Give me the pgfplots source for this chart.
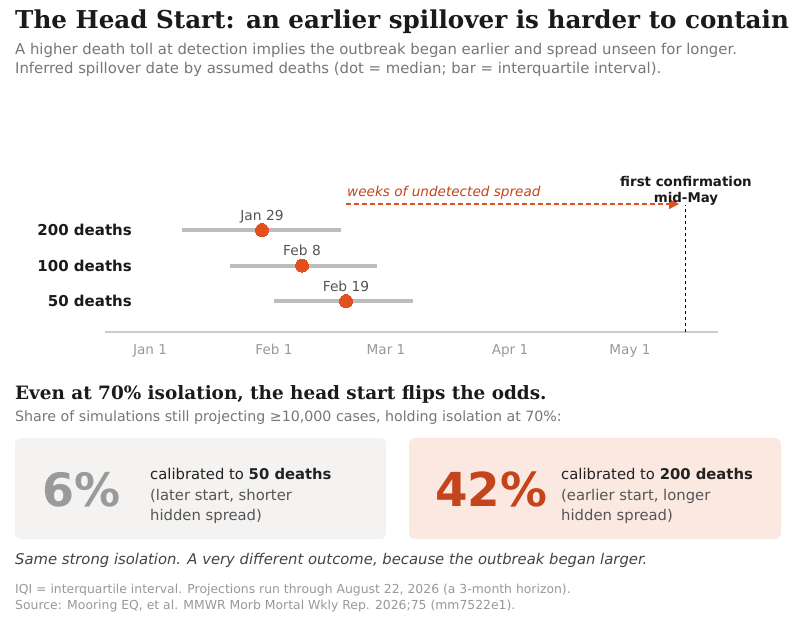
\documentclass[border=0pt]{standalone}
\usepackage{pgfplots}
\pgfplotsset{compat=1.18}
\usepackage{fontspec}
\setmainfont{DejaVu Sans}
\newfontfamily\serifb{DejaVu Serif}
\usetikzlibrary{arrows.meta}
\definecolor{titlec}{HTML}{1A1A1A}
\definecolor{subgray}{HTML}{777777}
\definecolor{tickgray}{HTML}{999999}
\definecolor{axisgray}{HTML}{CCCCCC}
\definecolor{barc}{HTML}{BDBDBD}
\definecolor{dotc}{HTML}{E3501F}
\definecolor{annc}{HTML}{C4441C}
\definecolor{bigred}{HTML}{C4451C}
\definecolor{biggray}{HTML}{9A9A9A}
\definecolor{leftbox}{HTML}{F5F3F1}
\definecolor{rightbox}{HTML}{FBE9E1}
\definecolor{darktext}{HTML}{222222}
\definecolor{midtext}{HTML}{555555}
\definecolor{itc}{HTML}{444444}
\newcommand{\fs}[1]{\fontsize{#1}{#1}\selectfont}
\begin{document}
\begin{tikzpicture}
\path[use as bounding box] (0,0) rectangle (790pt,-625pt);
\fill[white] (0,0) rectangle (790pt,-625pt);
% titles
\node[anchor=base west, inner sep=0, text=titlec, font=\serifb\bfseries\fs{24.6}] at (15pt,-28pt) {The Head Start: an earlier spillover is harder to contain};
\node[anchor=base west, inner sep=0, text=subgray, font=\fs{14.85}] at (15pt,-54pt) {A higher death toll at detection implies the outbreak began earlier and spread unseen for longer.};
\node[anchor=base west, inner sep=0, text=subgray, font=\fs{14.85}] at (15pt,-73pt) {Inferred spillover date by assumed deaths (dot = median; bar = interquartile interval).};
% dot plot
\begin{axis}[at={(105pt,-332pt)}, anchor=south west, scale only axis,
  width=613pt, height=137.5pt, xmin=-11.25, xmax=142, ymin=0.127, ymax=4,
  clip=false,
  axis x line*=bottom, axis y line=none,
  x axis line style={draw=axisgray, line width=1.5pt, -},
  xtick={0,31,59,90,120}, xticklabels={Jan 1,Feb 1,Mar 1,Apr 1,May 1},
  major tick length=0pt,
  xticklabel style={text=tickgray, font=\fs{13.6}, yshift=-9pt},
  ytick=\empty]
\addplot[barc, line width=4pt] coordinates {(8,3) (47.75,3)};
\addplot[barc, line width=4pt] coordinates {(20,2) (56.75,2)};
\addplot[barc, line width=4pt] coordinates {(31,1) (65.75,1)};
\addplot[dotc, only marks, mark=*, mark size=6.5pt, mark options={fill=dotc, draw=dotc, line width=0pt},
  point meta=explicit symbolic, nodes near coords,
  nodes near coords style={anchor=base, inner sep=0pt, yshift=10pt, text=midtext, font=\fs{13.8}}]
  coordinates {(28,3) [Jan 29] (38,2) [Feb 8] (49,1) [Feb 19]};
\addplot[black, line width=1pt, dash pattern=on 3pt off 3pt] coordinates {(133.75,0.127) (133.75,3.70)};
\addplot[dotc, line width=1.2pt, dash pattern=on 5pt off 3pt, -{Triangle[length=10pt,width=10pt]}] coordinates {(49,3.732) (132.25,3.732)};
\end{axis}
\node[anchor=base west, inner sep=0, text=annc, font=\itshape\fs{13.6}] at (347pt,-196pt) {weeks of undetected spread};
\node[anchor=base, inner sep=0, text=titlec, font=\bfseries\fs{13.4}] at (686pt,-186pt) {first confirmation};
\node[anchor=base, inner sep=0, text=titlec, font=\bfseries\fs{13.4}] at (686pt,-202pt) {mid-May};
\node[anchor=base east, inner sep=0, text=titlec, font=\bfseries\fs{15}] at (132pt,-235pt) {200 deaths};
\node[anchor=base east, inner sep=0, text=titlec, font=\bfseries\fs{15}] at (132pt,-271pt) {100 deaths};
\node[anchor=base east, inner sep=0, text=titlec, font=\bfseries\fs{15}] at (132pt,-306pt) {50 deaths};
% second section
\node[anchor=base west, inner sep=0, text=titlec, font=\serifb\bfseries\fs{18.4}] at (15pt,-399pt) {Even at 70\% isolation, the head start flips the odds.};
\node[anchor=base west, inner sep=0, text=subgray, font=\fs{14.2}] at (15pt,-421pt) {Share of simulations still projecting ≥10,000 cases, holding isolation at 70\%:};
\fill[leftbox, rounded corners=6pt] (15pt,-438pt) rectangle (386pt,-539pt);
\fill[rightbox, rounded corners=6pt] (409pt,-438pt) rectangle (781pt,-539pt);
\node[anchor=base west, inner sep=0, text=biggray, font=\bfseries\fs{46}] at (42pt,-506pt) {6\%};
\node[anchor=base west, inner sep=0, text=bigred, font=\bfseries\fs{46.8}] at (435pt,-506pt) {42\%};
\node[anchor=base west, inner sep=0, text=darktext, font=\fs{14.8}] at (150pt,-479pt) {calibrated to \textbf{50 deaths}};
\node[anchor=base west, inner sep=0, text=midtext, font=\fs{14.8}] at (150pt,-500pt) {(later start, shorter};
\node[anchor=base west, inner sep=0, text=midtext, font=\fs{14.8}] at (150pt,-520pt) {hidden spread)};
\node[anchor=base west, inner sep=0, text=darktext, font=\fs{14.8}] at (561pt,-479pt) {calibrated to \textbf{200 deaths}};
\node[anchor=base west, inner sep=0, text=midtext, font=\fs{14.8}] at (561pt,-500pt) {(earlier start, longer};
\node[anchor=base west, inner sep=0, text=midtext, font=\fs{14.8}] at (561pt,-520pt) {hidden spread)};
\node[anchor=base west, inner sep=0, text=itc, font=\itshape\fs{14.8}] at (15pt,-564pt) {Same strong isolation. A very different outcome, because the outbreak began larger.};
\node[anchor=base west, inner sep=0, text=tickgray, font=\fs{12.4}] at (15pt,-593pt) {IQI = interquartile interval. Projections run through August 22, 2026 (a 3-month horizon).};
\node[anchor=base west, inner sep=0, text=tickgray, font=\fs{12.4}] at (15pt,-609pt) {Source: Mooring EQ, et al. MMWR Morb Mortal Wkly Rep. 2026;75 (mm7522e1).};
\end{tikzpicture}
\end{document}
